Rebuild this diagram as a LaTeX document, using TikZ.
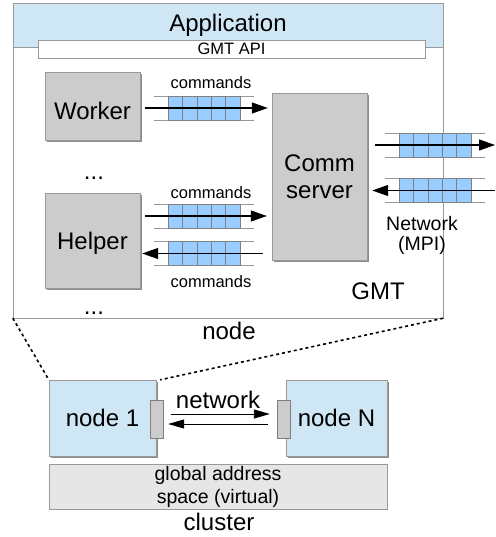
\documentclass[tikz,border=0pt]{standalone}
\usepackage{fontspec}
\setmainfont{Liberation Sans}
\usetikzlibrary{arrows.meta,shadows}
\definecolor{hdrblue}{HTML}{CFE6F4}
\definecolor{cellblue}{HTML}{99CCFF}
\definecolor{boxgray}{HTML}{CCCCCC}
\definecolor{linegray}{HTML}{999999}
\definecolor{spacegray}{HTML}{E6E6E6}
\newcommand{\bigtxt}{\fontsize{24}{27}\selectfont}
\newcommand{\midtxt}{\fontsize{19.5}{20}\selectfont}
\newcommand{\smalltxt}{\fontsize{16.5}{18}\selectfont}
\newcommand{\cmdqueue}[2]{%
	\draw[qline] (#1-50,#2-12) -- (#1+50,#2-12) (#1-50,#2+12) -- (#1+50,#2+12);
	\foreach \i in {0,...,4}
		\draw[cell] (#1-36+\i*14.4,#2-12) rectangle ++(14.4,24);
}
\tikzset{shadowed/.style={drop shadow={shadow xshift=2pt,shadow yshift=-2pt,fill=black!45,opacity=1}},
	thread/.style={draw=linegray,fill=boxgray,shadowed,inner sep=0pt,font=\bigtxt,align=center},
	nodebox/.style={draw=linegray,fill=hdrblue,shadowed,inner sep=0pt,font=\bigtxt,minimum height=76pt},
	port/.style={draw=gray,fill=boxgray,minimum width=13pt,minimum height=38pt,inner sep=0pt},
	cell/.style={draw=gray,fill=cellblue},
	qline/.style={draw=linegray},
	label/.style={inner sep=0pt},
	msg/.style={-{Triangle[length=16pt,width=11pt]},line width=1.2pt},
	wire/.style={-{Triangle[length=16pt,width=9pt]},line width=0.9pt},
	zoomline/.style={dash pattern=on 3pt off 3pt,line width=1.6pt}}
\begin{document}
\begin{tikzpicture}[x=1pt,y=-1pt]
	\useasboundingbox (0,0) rectangle (495,537);
	\node[draw=linegray,fill=white,minimum width=430pt,minimum height=315pt] (app) at (228,160.5) {};
	\node[draw=linegray,fill=hdrblue,minimum width=430pt,minimum height=44pt,inner sep=0pt,font=\bigtxt] (hdr) at (228,25.5) {Application};
	\node[draw=linegray,fill=white,minimum width=387pt,minimum height=18pt,inner sep=0pt,font=\smalltxt] (api) at (231.5,49) {GMT API};
	\node[thread,minimum width=95pt,minimum height=68pt] (worker) at (92.5,106) {};
	\node[label,font=\bigtxt] (workerlbl) at ([yshift=-5pt]worker.center) {Worker};
	\node[thread,minimum width=95pt,minimum height=95pt] (helper) at (92.5,240.5) {};
	\node[label,font=\bigtxt] (helperlbl) at ([yshift=-3pt]helper.center) {Helper};
	\node[thread,minimum width=95pt,minimum height=167pt] (comm) at (319.5,176.5) {Comm\\server};
	\node[label,font=\bigtxt,anchor=base] (dots1) at (94,179) {...};
	\node[label,font=\bigtxt,anchor=base] (dots2) at (94,314) {...};
	\coordinate (q1) at (204,108);
	\coordinate (q2) at (204,216);
	\coordinate (q3) at (204,253.5);
	\coordinate (q4) at (435,145);
	\coordinate (q5) at (435,190.5);
	\coordinate (netout) at (495,145);
	\coordinate (netin) at (495,190.5);
	\cmdqueue{204}{108}
	\cmdqueue{204}{216}
	\cmdqueue{204}{253.5}
	\cmdqueue{435}{145}
	\cmdqueue{435}{190.5}
	\draw[msg,shorten <=5pt,shorten >=4pt] (worker.east |- q1) -- (comm.west |- q1);
	\draw[msg,shorten <=5pt,shorten >=5pt] (helper.east |- q2) -- (comm.west |- q2);
	\draw[msg,shorten <=9pt,shorten >=2pt] (comm.west |- q3) -- (helper.east |- q3);
	\draw[msg,shorten <=8pt] (comm.east |- q4) -- (netout);
	\draw[msg,shorten >=5pt] (netin) -- (comm.east |- q5);
	\node[label,font=\smalltxt] (cmd1) at (211,83) {commands};
	\node[label,font=\smalltxt] (cmd2) at (211,193) {commands};
	\node[label,font=\smalltxt] (cmd3) at (211,282) {commands};
	\node[label,font=\midtxt,align=center] (mpi) at (422,235) {Network\\(MPI)};
	\node[label,font=\bigtxt] (gmt) at (378,291) {GMT};
	\node[label,font=\bigtxt] (nodelbl) at (229,331) {node};
	\node[nodebox,minimum width=107pt] (node1) at (102.5,418) {node 1};
	\node[nodebox,minimum width=101pt] (nodeN) at (336.5,418) {node N};
	\node[port] (port1) at (156.5,419) {};
	\node[port] (portN) at (283.5,419) {};
	\node[label,font=\bigtxt] (net) at (218,400) {network};
	\coordinate (up) at (0,414);
	\coordinate (down) at (0,424);
	\draw[wire,shorten <=8pt,shorten >=7pt] (port1.east |- up) -- (portN.west |- up);
	\draw[wire,shorten <=9pt,shorten >=5pt] (portN.west |- down) -- (port1.east |- down);
	\draw[zoomline] (app.south west) -- (node1.north west);
	\draw[zoomline] (app.south east) -- ([xshift=4pt]node1.north east);
	\node[draw=linegray,fill=spacegray,minimum width=338pt,minimum height=45pt,inner sep=0pt,font=\fontsize{19.5}{23}\selectfont,align=center] (gas) at (218,486.5) {global address\\space (virtual)};
	\node[label,font=\bigtxt] (clusterlbl) at (219,522) {cluster};
\end{tikzpicture}
\end{document}
